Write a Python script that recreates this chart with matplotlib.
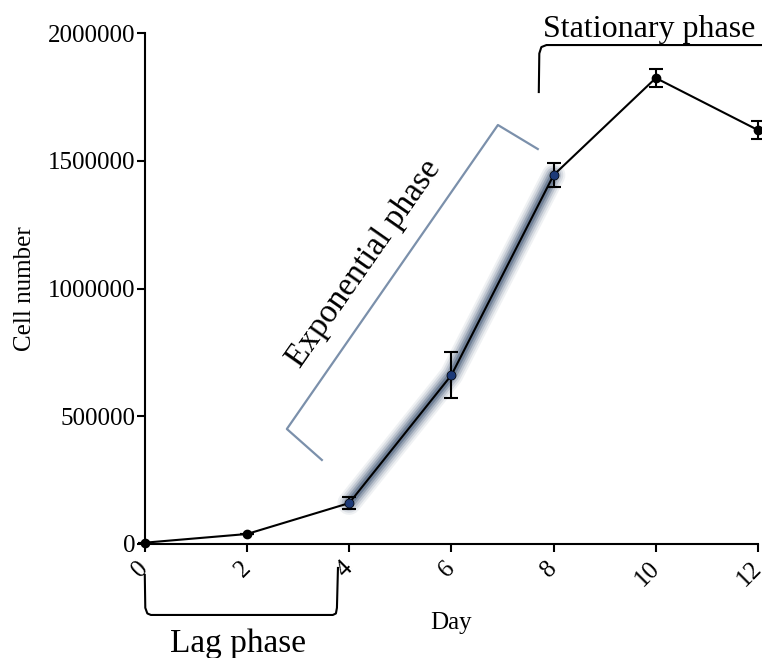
import matplotlib
matplotlib.use('Agg')
from matplotlib import pyplot as plt

plt.rcParams['font.family'] = ['Liberation Serif', 'DejaVu Serif']

days = [0, 2, 4, 6, 8, 10, 12]
cells = [5000, 39000, 160000, 661000, 1444000, 1824000, 1620000]
errors = [0, 0, 23000, 90000, 48000, 37000, 35000]
x_ticks = [0, 2, 4, 6, 8, 10, 12]
y_ticks = [0, 500000, 1000000, 1500000, 2000000]

# exponential part of the curve (day 4 to day 8)
exp_days = days[2:5]
exp_cells = cells[2:5]

fig = plt.figure(figsize=(7.62, 6.58), dpi=100)
ax = fig.add_axes([0.190, 0.1733, 0.8048, 0.7765])

# blurred glow on the exponential part
for lw, a in [(17, 0.08), (14, 0.12), (11, 0.18), (8, 0.28), (5, 0.4)]:
    ax.plot(exp_days, exp_cells, color='#3a5070', lw=lw, alpha=a,
            solid_capstyle='round', zorder=2)

ax.errorbar(days, cells, yerr=errors, color='black', lw=1.5, marker='o',
            markersize=6, capsize=5, elinewidth=1.5, capthick=1.5,
            clip_on=False, zorder=3)
ax.plot(exp_days, exp_cells, 'o', color='#1d3a78', markersize=5, zorder=4,
        clip_on=False)

ax.set_xlim(0, 12)
ax.set_ylim(0, 2000000)
ax.set_xticks(x_ticks)
ax.set_yticks(y_ticks)
ax.set_xticklabels([str(d) for d in x_ticks], rotation=45, ha='right', va='center',
                   rotation_mode='anchor', fontsize=18)
ax.set_yticklabels([str(v) for v in y_ticks], fontsize=18)
ax.tick_params(axis='both', length=6, width=1.5, direction='out')
ax.tick_params(axis='y', pad=1)
ax.tick_params(axis='x', pad=9)
for s in ['top', 'right']:
    ax.spines[s].set_visible(False)
for s in ['left', 'bottom']:
    ax.spines[s].set_linewidth(1.5)

ax.set_xlabel('Day', fontsize=18, labelpad=16)
ax.set_ylabel('Cell number', fontsize=18, labelpad=8)

# exponential phase bracket
ax.plot([3.465, 2.78, 6.91, 7.69], [328800, 450100, 1640000, 1546000],
        color='#7b90ab', lw=1.6, clip_on=False)
ax.text(4.28, 1096000, 'Exponential phase', fontsize=24, rotation=55,
        ha='center', va='center', rotation_mode='anchor')

# stationary phase bracket
ax.plot([7.71, 7.72, 7.76, 7.86, 12.2], [1769000, 1920000, 1945000, 1953000, 1953000],
        color='black', lw=1.5, clip_on=False)
ax.text(7.79, 1984000, 'Stationary phase', fontsize=23, ha='left',
        va='baseline', clip_on=False)

# lag phase bracket
ax.plot([0, 0.01, 0.05, 0.12, 3.68, 3.74, 3.76, 3.78],
        [-121300, -250000, -272000, -277900, -277900, -272000, -250000, -93900],
        color='black', lw=1.5, clip_on=False)
ax.text(1.82, -422700, 'Lag phase', fontsize=24, ha='center', va='baseline')

fig.savefig('out.png', dpi=100)
